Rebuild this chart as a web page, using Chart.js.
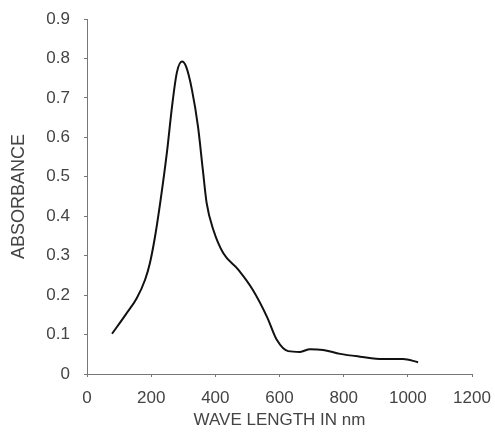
<!DOCTYPE html>
<html>
<head>
<meta charset="utf-8">
<script src="https://cdn.jsdelivr.net/npm/chart.js@4"></script>
<style>
  html, body { margin: 0; padding: 0; background: #fff; }
  #wrap { width: 495px; height: 435px; position: relative; }
</style>
</head>
<body>
<div id="wrap"><canvas id="chartAbs"></canvas></div>
<script>
// longueurs d'onde (nm) et absorbance
const waveLength = [78, 120, 155, 181, 196, 212, 228, 249, 265, 280, 296, 309, 327, 346, 361, 373, 394, 425, 472, 517, 561, 592, 627, 664, 695, 736, 789, 851, 923, 985, 1032];
const absorbance = [0.102, 0.150, 0.192, 0.239, 0.281, 0.348, 0.433, 0.561, 0.678, 0.764, 0.792, 0.779, 0.721, 0.627, 0.518, 0.433, 0.365, 0.306, 0.264, 0.213, 0.145, 0.086, 0.058, 0.056, 0.063, 0.061, 0.051, 0.044, 0.038, 0.038, 0.030];

const xTicks = [0, 200, 400, 600, 800, 1000, 1200];
const yTicks = [0, 0.1, 0.2, 0.3, 0.4, 0.5, 0.6, 0.7, 0.8, 0.9];

const points = waveLength.map((w, i) => ({ x: w, y: absorbance[i] }));

const ctxAbs = document.getElementById('chartAbs').getContext('2d');
const chartAbs = new Chart(ctxAbs, {
    type: 'line',
    data: {
        datasets: [{
            data: points,
            borderColor: '#111',
            borderWidth: 2,
            pointRadius: 0,
            fill: false,
            cubicInterpolationMode: 'monotone'
        }]
    },
    options: {
        responsive: true,
        maintainAspectRatio: false,
        animation: false,
        layout: { padding: { left: 0, top: 19, right: 23, bottom: 0 } },
        plugins: { legend: { display: false }, tooltip: { enabled: false } },
        scales: {
            x: {
                type: 'linear',
                min: 0, max: 1200,
                afterBuildTicks: s => { s.ticks = xTicks.map(v => ({ value: v })); },
                afterFit: s => { s.height = 61; s.paddingLeft = 0; s.paddingRight = 0; },
                grid: { drawOnChartArea: false, tickLength: 3, color: '#777' },
                border: { color: '#777', width: 1 },
                ticks: {
                    color: '#444', padding: 11, maxRotation: 0,
                    font: { family: 'Liberation Sans', size: 17 },
                    callback: v => String(v)
                },
                title: {
                    display: true,
                    text: 'WAVE LENGTH IN nm',
                    color: '#444',
                    padding: { top: 0, bottom: 4 },
                    font: { family: 'Liberation Sans', size: 17 }
                }
            },
            y: {
                min: 0, max: 0.9,
                afterBuildTicks: s => { s.ticks = yTicks.map(v => ({ value: v })); },
                afterFit: s => { s.width = 87; s.paddingTop = 0; s.paddingBottom = 0; },
                grid: { drawOnChartArea: false, tickLength: 3, color: '#777' },
                border: { color: '#777', width: 1 },
                ticks: {
                    color: '#444', padding: 14,
                    font: { family: 'Liberation Sans', size: 17 },
                    callback: v => String(Math.round(v * 10) / 10)
                },
                title: {
                    display: true,
                    text: 'ABSORBANCE',
                    color: '#444',
                    padding: { top: 8, bottom: 0 },
                    font: { family: 'Liberation Sans', size: 18 }
                }
            }
        }
    }
});
</script>
</body>
</html>
